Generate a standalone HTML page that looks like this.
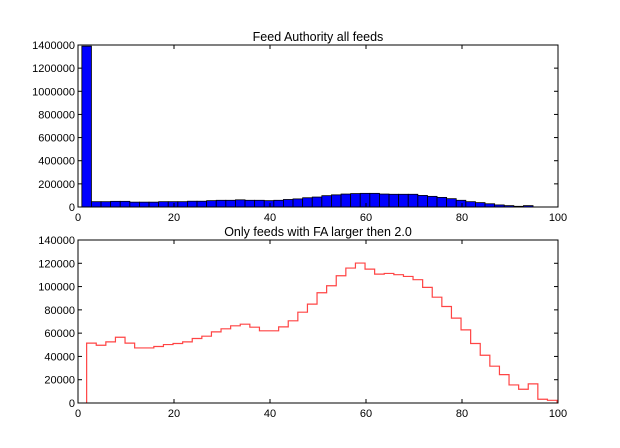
<!DOCTYPE html>
<html><head><meta charset="utf-8"><style>
html,body{margin:0;padding:0;background:#fff;}
svg{display:block;font-family:"Liberation Sans",sans-serif;}
</style></head><body>
<svg id="chart" width="620" height="448"></svg>
<script>
const xTicks=[0,20,40,60,80,100];
const topYTicks=[0,200000,400000,600000,800000,1000000,1200000,1400000];
const botYTicks=[0,20000,40000,60000,80000,100000,120000,140000];
const topBinStart=0.8, topBinWidth=2.0;
const topValues=[1390000,46000,46000,49000,49000,42000,42000,42000,46000,46000,46000,50000,50000,55000,58000,58000,62000,58000,58000,55000,58000,65000,70000,80000,86000,98000,105000,112000,116000,118000,118000,112000,110000,110000,110000,100000,92000,83000,72000,58000,46000,38000,28000,18000,12000,6000,12000];
const botBinStart=1.8, botBinWidth=2.0;
const botValues=[51400,49600,52500,56500,51400,47300,47300,48500,50200,51100,52500,55400,57400,61100,63700,66300,67700,65100,62000,62000,65400,70600,78000,84900,94700,100700,109300,115900,120200,115000,110700,111300,110200,108700,105900,99300,90900,82900,72900,62800,51100,41000,31600,24400,15500,11800,16400,3200,2300];

const NS="http://www.w3.org/2000/svg";
const svg=document.getElementById('chart');
function mk(tag,attrs,parent){const e=document.createElementNS(NS,tag);for(const k in attrs)e.setAttribute(k,attrs[k]);(parent||svg).appendChild(e);return e;}

function drawAxes(box,yMax,yTicks,title,prefix){
  const sx=v=>box.x0+(v/100)*(box.x1-box.x0);
  const sy=v=>box.y1-(v/yMax)*(box.y1-box.y0);
  const g=mk('g',{});
  
  
  const t=mk('text',{x:(box.x0+box.x1)/2,y:box.y0-4,'text-anchor':'middle','font-size':'12.5',fill:'#000'},g);
  t.textContent=title;
  
  
  return {sx,sy,g,box,yTicks,prefix};
}
function drawFrame(a){
  const {sx,sy,g,box,yTicks,prefix}=a;
  const fr=mk('rect',{x:box.x0,y:box.y0,width:box.x1-box.x0,height:box.y1-box.y0,fill:'none',stroke:'#000','stroke-width':1},g);
  
  
  xTicks.forEach(v=>{
    const x=sx(v);
    mk('line',{x1:x,x2:x,y1:box.y1,y2:box.y1-4,stroke:'#000'},g);
    mk('line',{x1:x,x2:x,y1:box.y0,y2:box.y0+4,stroke:'#000'},g);
    const l=mk('text',{x:x,y:box.y1+14,'text-anchor':'middle','font-size':'11',fill:'#000'},g);
    l.textContent=v;
    
    
  });
  yTicks.forEach(v=>{
    const y=sy(v);
    mk('line',{x1:box.x0,x2:box.x0+4,y1:y,y2:y,stroke:'#000'},g);
    mk('line',{x1:box.x1,x2:box.x1-4,y1:y,y2:y,stroke:'#000'},g);
    const l=mk('text',{x:box.x0-3,y:y+4,'text-anchor':'end','font-size':'11',fill:'#000'},g);
    l.textContent=v;
    
    
  });
}

// Top histogram
const A=drawAxes({x0:78,x1:558,y0:45,y1:207},1400000,topYTicks,'Feed Authority all feeds','top');
topValues.forEach((v,i)=>{
  const xa=A.sx(topBinStart+i*topBinWidth), xb=A.sx(topBinStart+(i+1)*topBinWidth);
  const r=mk('rect',{x:xa,y:A.sy(v),width:xb-xa,height:A.sy(0)-A.sy(v),fill:'#0000ff',stroke:'#000','stroke-width':0.8},A.g);
  
  
});
drawFrame(A);

// Bottom step histogram
const B=drawAxes({x0:78,x1:558,y0:240,y1:403},140000,botYTicks,'Only feeds with FA larger then 2.0','bottom');
let d='M'+B.sx(botBinStart)+','+B.sy(0);
botValues.forEach((v,i)=>{
  d+=' L'+B.sx(botBinStart+i*botBinWidth)+','+B.sy(v)+' L'+B.sx(botBinStart+(i+1)*botBinWidth)+','+B.sy(v);
});
d+=' L'+B.sx(botBinStart+botValues.length*botBinWidth)+','+B.sy(0);
const p=mk('path',{d:d,fill:'none',stroke:'#ff4444','stroke-width':1.2},B.g);


drawFrame(B);
</script>
</body></html>
